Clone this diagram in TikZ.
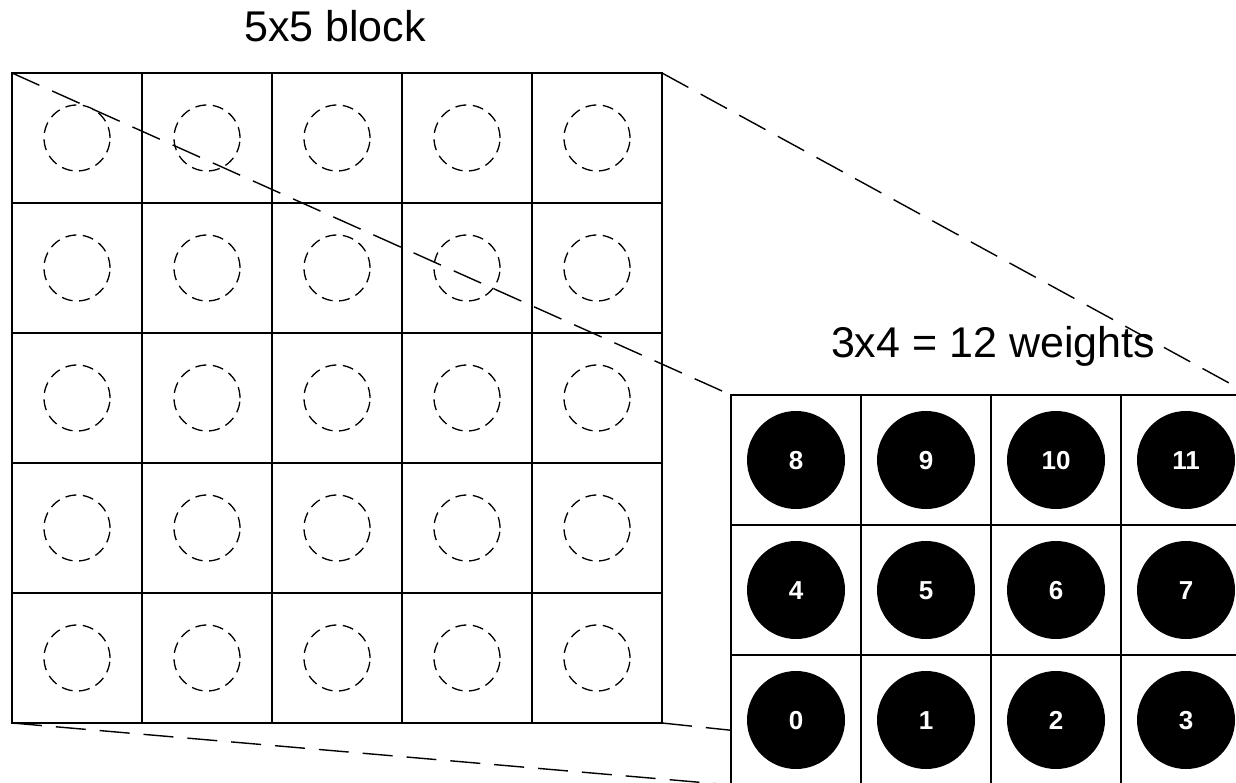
\documentclass[tikz,border=0pt]{standalone}
\usepackage{fontspec}
\setmainfont{Liberation Sans}
\usetikzlibrary{backgrounds}
\begin{document}
\begin{tikzpicture}[x=1pt,y=-1pt,
  cell/.style={draw, line width=1.5pt, minimum size=130pt, inner sep=0pt, outer sep=0pt},
  wcell/.style={cell, fill=white},
  hole/.style={circle, draw, line width=1.3pt, dash pattern=on 11pt off 6.5pt, minimum size=66pt, inner sep=0pt},
  weight/.style={circle, fill=black, minimum size=98pt, inner sep=0pt, text=white, text height=18.6pt, text depth=0pt, font=\bfseries\fontsize{26}{26}\selectfont},
  guide/.style={line width=1.4pt, dash pattern=on 30pt off 14pt},
  title/.style={font=\fontsize{43}{50}\selectfont, anchor=base, inner sep=0pt}]
\useasboundingbox (0,0) rectangle (1236,783);
\clip (0,0) rectangle (1236,783);
% big 5x5 block
\foreach \r in {1,...,5} \foreach \c in {1,...,5} {
  \node[cell] (b\r\c) at ({12+130*\c-65},{73+130*\r-65}) {};
  \node[hole] (h\r\c) at (b\r\c) {};
}
% small 3x4 block
\foreach \r in {1,2,3} \foreach \c in {1,...,4} {
  \pgfmathtruncatemacro\w{4*(3-\r)+\c-1}
  \node[wcell] (s\r\c) at ({731+130*\c-65},{395+130*\r-65}) {};
  \node[weight] (w\w) at (s\r\c) {\w};
}
\begin{pgfonlayer}{background}
  \fill[white] (0,0) rectangle (1236,783);
  \draw[guide] (b55.south east) -- (s34.south east);
\end{pgfonlayer}
\draw[guide] (b11.north west) -- (s11.north west);
\draw[guide] (b15.north east) -- (s14.north east);
\draw[guide] (b51.south west) -- (s31.south west);
\node[title] (t1) at (335,42) {5x5 block};
\node[title] (t2) at (993,357) {3x4 = 12 weights};
\end{tikzpicture}
\end{document}
